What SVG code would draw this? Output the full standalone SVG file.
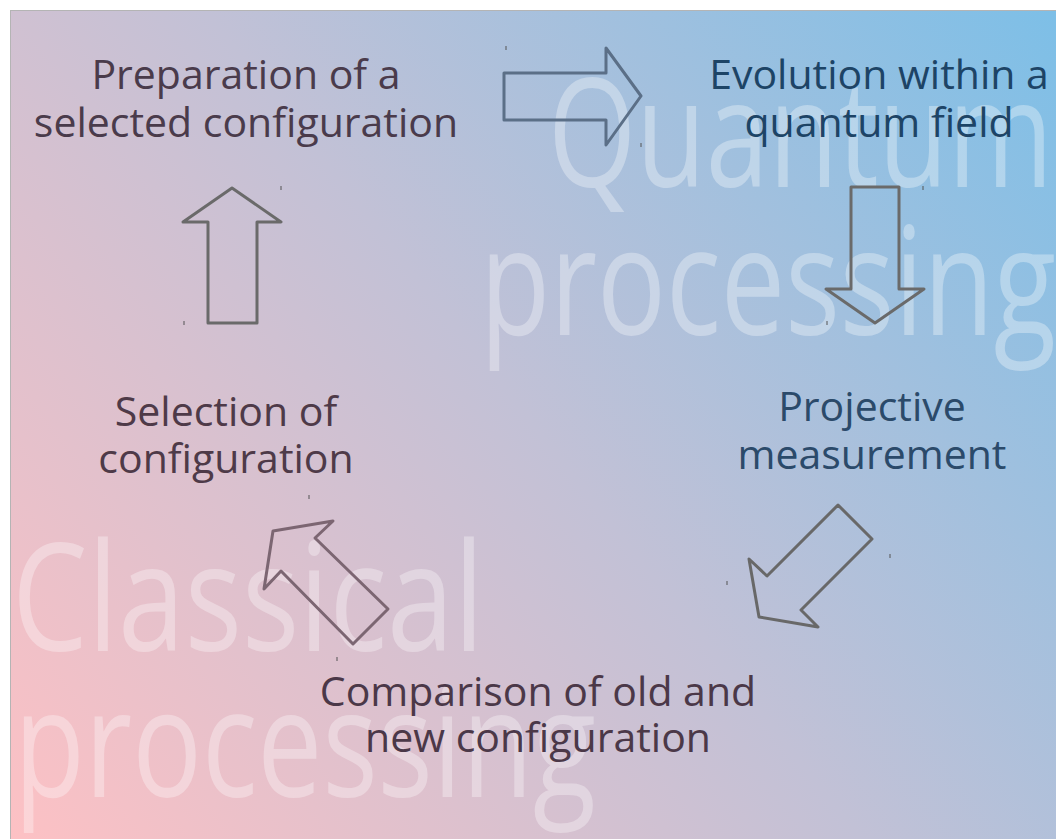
<svg xmlns="http://www.w3.org/2000/svg" width="1056" height="839" viewBox="0 0 1056 839">
<defs>
<linearGradient id="bg" gradientUnits="userSpaceOnUse" x1="10" y1="839" x2="1056" y2="10">
<stop offset="0" stop-color="#fdc1c4"/>
<stop offset="0.5" stop-color="#c2c1d6"/>
<stop offset="1" stop-color="#7dbfe7"/>
</linearGradient>
<style>
.lbl{font-family:"Open Sans","Noto Sans","Liberation Sans",sans-serif;font-size:41px;text-anchor:middle}
.wm{font-family:"Open Sans","DejaVu Sans",sans-serif;font-weight:400;font-size:150px;fill:#ffffff;fill-opacity:0.33}
.arr{fill:none;stroke-width:3;stroke-linejoin:round}
.tick{fill:#555555}
</style>
</defs>
<rect x="0" y="0" width="1056" height="839" fill="#ffffff"/>
<rect x="10.5" y="10.5" width="1050" height="835" fill="url(#bg)" stroke="#b4b4b4" stroke-width="1"/>
<g id="watermarks">
<text class="wm" x="548" y="187" textLength="505" lengthAdjust="spacingAndGlyphs">Quantum</text>
<text class="wm" x="480" y="335" textLength="576" lengthAdjust="spacingAndGlyphs">processing</text>
<text class="wm" x="12" y="651" textLength="472" lengthAdjust="spacingAndGlyphs">Classical</text>
<text class="wm" x="14" y="797" textLength="582" lengthAdjust="spacingAndGlyphs">processing</text>
</g>
<g id="connectors">
<polygon class="arr" stroke="#5b6f87" points="504,73 606,73 606,48 641,96 606,145 606,120 504,120"/>
<polygon class="arr" stroke="#6a6a6a" points="851,187 899,187 899,289 924,289 875,323 826,289 851,289"/>
<polygon class="arr" stroke="#686868" points="838,505 872,539 801,610 818,627 759,617 749,559 767,576"/>
<polygon class="arr" stroke="#7c6672" points="333,521 273,531 264,589 281,571 353,644 388,609 315,538"/>
<polygon class="arr" stroke="#6a6a6a" points="232,188 281,222 257,222 257,323 208,323 208,222 183,222"/>
</g>
<g id="ticks">
<rect class="tick" x="505.5" y="46" width="1" height="4"/>
<rect class="tick" x="640.5" y="143" width="1" height="4"/>
<rect class="tick" x="922.5" y="186" width="1" height="4"/>
<rect class="tick" x="826.5" y="321" width="1" height="4"/>
<rect class="tick" x="726.5" y="581" width="1" height="4"/>
<rect class="tick" x="889.5" y="554" width="1" height="4"/>
<rect class="tick" x="336.5" y="657" width="1" height="4"/>
<rect class="tick" x="280.5" y="186" width="1" height="4"/>
<rect class="tick" x="183.5" y="321" width="1" height="4"/>
<rect class="tick" x="308.5" y="495" width="1" height="4"/>
</g>
<g id="node-preparation">
<text class="lbl" fill="#4a3b4b" x="246" y="89">Preparation of a</text>
<text class="lbl" fill="#4a3b4b" x="246" y="137">selected configuration</text>
</g>
<g id="node-evolution">
<text class="lbl" fill="#1d4466" x="879" y="89">Evolution within a</text>
<text class="lbl" fill="#1d4466" x="879" y="137">quantum field</text>
</g>
<g id="node-measurement">
<text class="lbl" fill="#2b4a6a" x="872" y="421">Projective</text>
<text class="lbl" fill="#2b4a6a" x="872" y="469">measurement</text>
</g>
<g id="node-comparison">
<text class="lbl" fill="#4b3848" x="538" y="706">Comparison of old and</text>
<text class="lbl" fill="#4b3848" x="538" y="752">new configuration</text>
</g>
<g id="node-selection">
<text class="lbl" fill="#4e3a48" x="226" y="426">Selection of</text>
<text class="lbl" fill="#4e3a48" x="226" y="473">configuration</text>
</g>
</svg>
